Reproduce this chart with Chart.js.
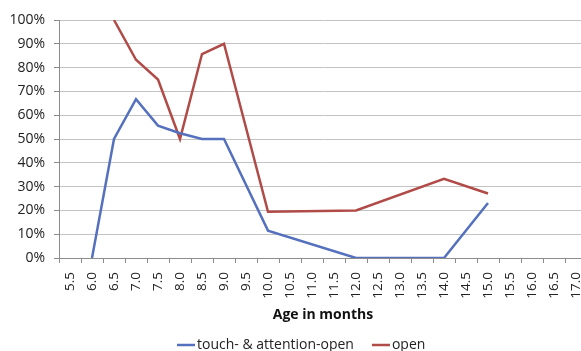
<!DOCTYPE html>
<html>
<head>
<meta charset="utf-8">
<script src="https://cdn.jsdelivr.net/npm/chart.js@4/dist/chart.umd.min.js"></script>
<style>
  html, body { margin: 0; padding: 0; background: #fff; overflow: hidden; }
  #wrap { width: 581px; height: 351px; position: relative; overflow: hidden; }
  #c { display: block; }
</style>
</head>
<body>
<!-- the plot runs slightly past the right edge of the visible frame -->
<div id="wrap"><canvas id="c" width="587" height="351"></canvas></div>
<script>
// Age categories (months)
const ages = ['5.5','6.0','6.5','7.0','7.5','8.0','8.5','9.0','9.5','10.0','10.5','11.0',
              '11.5','12.0','12.5','13.0','13.5','14.0','14.5','15.0','15.5','16.0','16.5','17.0'];

// Share of infants (%) per age; null = no observation at that age
const touchAttentionOpen = [null, 0, 50, 66.7, 55.6, 52.4, 50, 50, null, 11.5, null, null,
                            null, 0, null, null, null, 0, null, 23.1, null, null, null, null];
const openOnly = [null, null, 100, 83.3, 75, 50, 85.7, 90, null, 19.4, null, null,
                  null, 20, null, null, null, 33.3, null, 27.1, null, null, null, null];

const seriesNames = ['touch- & attention-open', 'open'];
const seriesColors = ['#5571BE', '#B04B48'];

const FONT = 'Open Sans';
const GRID = '#c3c3c3';
const AXIS = '#8c8c8c';

// Legend row under the axis title: line sample followed by its label
const bottomLegend = {
  id: 'bottomLegend',
  afterDraw(chart) {
    const ctx = chart.ctx;
    ctx.save();
    ctx.font = '14px "' + FONT + '"';
    ctx.textBaseline = 'middle';
    const sample = 18, gap = 2, between = 18;
    let x = 177;
    const y = 345;
    chart.data.datasets.forEach(d => {
      ctx.strokeStyle = d.borderColor;
      ctx.lineWidth = 2.5;
      ctx.beginPath();
      ctx.moveTo(x, y);
      ctx.lineTo(x + sample, y);
      ctx.stroke();
      ctx.fillStyle = '#222';
      ctx.textAlign = 'left';
      ctx.fillText(d.label, x + sample + gap, y);
      x += sample + gap + ctx.measureText(d.label).width + between;
    });
    ctx.restore();
  }
};

new Chart(document.getElementById('c'), {
  type: 'line',
  data: {
    labels: ages,
    datasets: [
      { label: seriesNames[0], data: touchAttentionOpen, borderColor: seriesColors[0] },
      { label: seriesNames[1], data: openOnly, borderColor: seriesColors[1] }
    ].map(d => Object.assign(d, {
      borderWidth: 2.5, pointRadius: 0, tension: 0, spanGaps: true, fill: false,
      borderJoinStyle: 'miter'
    }))
  },
  options: {
    responsive: false,
    animation: false,
    devicePixelRatio: 1,
    layout: { padding: { top: 20, right: 0, bottom: 28, left: 0 } },
    plugins: { legend: { display: false }, tooltip: { enabled: false } },
    scales: {
      x: {
        type: 'category',
        offset: true,
        grid: {
          offset: true, drawOnChartArea: false, drawTicks: true,
          tickLength: 5, color: AXIS, lineWidth: 1
        },
        border: { display: true, color: AXIS, width: 1 },
        ticks: {
          color: '#222', font: { family: FONT, size: 13.5 },
          minRotation: 90, maxRotation: 90, autoSkip: false, padding: 9
        },
        title: {
          display: true, text: 'Age in months', color: '#111',
          font: { family: FONT, size: 14, weight: 'bold' }, padding: { top: 4, bottom: 0 }
        },
        afterFit(s) { s.height = 65; s.paddingLeft = 0; s.paddingRight = 0; }
      },
      y: {
        min: 0, max: 100,
        grid: { color: GRID, lineWidth: 1, drawTicks: true, tickLength: 5, tickColor: AXIS },
        border: { display: true, color: AXIS, width: 1 },
        ticks: {
          stepSize: 10, color: '#222', font: { family: FONT, size: 14 }, padding: 9,
          callback: v => v + '%'
        },
        afterFit(s) { s.width = 59; s.paddingTop = 0; s.paddingBottom = 0; }
      }
    }
  },
  plugins: [bottomLegend]
});
</script>
</body>
</html>
